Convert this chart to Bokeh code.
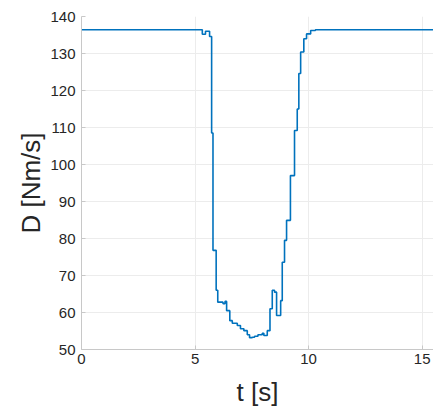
from bokeh.plotting import figure
from bokeh.models import Range1d, FixedTicker
from bokeh.embed import file_html
from bokeh.resources import INLINE

# step-signal data (time in s, damping D in Nm/s)
t = [0.0, 5.32, 5.46, 5.64, 5.73, 5.79, 5.93, 6.00, 6.23, 6.32, 6.39, 6.53,
     6.64, 6.86, 7.00, 7.15, 7.30, 7.40, 7.52, 7.62, 7.77, 7.96, 8.03, 8.18,
     8.30, 8.40, 8.50, 8.59, 8.77, 8.84, 8.94, 9.03, 9.20, 9.38, 9.50, 9.57,
     9.65, 9.79, 9.91, 10.09, 10.30, 15.5]
D = [136.4, 135.2, 136.0, 134.6, 108.5, 76.8, 66.0, 62.8, 62.4, 63.0, 60.5, 57.8,
     57.1, 56.5, 55.6, 55.1, 54.0, 53.2, 53.3, 53.6, 54.0, 54.4, 53.8, 55.1,
     61.0, 66.0, 65.5, 59.2, 63.2, 73.6, 79.5, 84.9, 97.0, 109.2, 115.0, 124.6,
     130.4, 134.0, 135.3, 136.2, 136.4, 136.4]

x_ticks = [0, 5, 10, 15]
y_ticks = [50, 60, 70, 80, 90, 100, 110, 120, 130, 140]

p = figure(width=433, height=413, output_backend="svg", toolbar_location=None,
           x_range=Range1d(0, 15.5), y_range=Range1d(50, 140),
           min_border_left=81, min_border_right=0, min_border_top=16,
           min_border_bottom=64)
p.outline_line_color = None
p.background_fill_color = "white"
p.border_fill_color = "white"

p.step(t, D, mode="after", line_color="#0072BD", line_width=1.6)

p.xaxis.ticker = FixedTicker(ticks=x_ticks)
p.yaxis.ticker = FixedTicker(ticks=y_ticks)
for ax in (p.xaxis[0], p.yaxis[0]):
    ax.axis_line_color = "#c8c8c8"
    ax.major_tick_line_color = "#c8c8c8"
    ax.major_tick_in = 4
    ax.major_tick_out = 0
    ax.minor_tick_line_color = None
    ax.major_label_text_font = "Liberation Sans"
    ax.major_label_text_font_size = "15px"
    ax.major_label_text_color = "#262626"
    ax.axis_label_text_font = "Liberation Sans"
    ax.axis_label_text_font_size = "26px"
    ax.axis_label_text_font_style = "normal"
    ax.axis_label_text_color = "#262626"

p.xaxis.axis_label = "t [s]"
p.yaxis.axis_label = "D [Nm/s]"
p.xaxis.major_label_standoff = 4
p.yaxis.major_label_standoff = 6
p.xaxis.axis_label_standoff = 10
p.yaxis.axis_label_standoff = 1

p.xgrid.grid_line_color = "#ececec"
p.ygrid.grid_line_color = "#ececec"

open("out.html", "w").write(file_html(p, INLINE))
